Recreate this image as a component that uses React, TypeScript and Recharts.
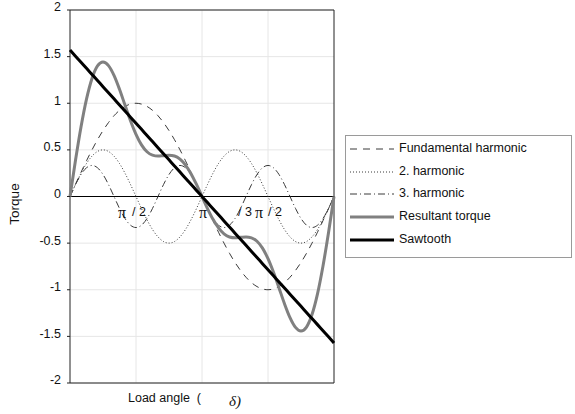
import React from "react";
import {
  ComposedChart,
  Line,
  XAxis,
  YAxis,
  CartesianGrid,
  ReferenceLine,
  ReferenceDot,
  Legend,
} from "recharts";

// load angle in degrees, 7.5° steps
const angles = [
  0, 7.5, 15, 22.5, 30, 37.5, 45, 52.5, 60, 67.5, 75, 82.5, 90, 97.5, 105, 112.5, 120, 127.5, 135, 142.5, 150,
  157.5, 165, 172.5, 180, 187.5, 195, 202.5, 210, 217.5, 225, 232.5, 240, 247.5, 255, 262.5, 270, 277.5, 285,
  292.5, 300, 307.5, 315, 322.5, 330, 337.5, 345, 352.5, 360,
];

const fundamental = [
  0, 0.131, 0.259, 0.383, 0.5, 0.609, 0.707, 0.793, 0.866, 0.924, 0.966, 0.991, 1, 0.991, 0.966, 0.924, 0.866,
  0.793, 0.707, 0.609, 0.5, 0.383, 0.259, 0.131, 0, -0.131, -0.259, -0.383, -0.5, -0.609, -0.707, -0.793, -0.866,
  -0.924, -0.966, -0.991, -1, -0.991, -0.966, -0.924, -0.866, -0.793, -0.707, -0.609, -0.5, -0.383, -0.259,
  -0.131, 0,
];

const second = [
  0, 0.129, 0.25, 0.354, 0.433, 0.483, 0.5, 0.483, 0.433, 0.354, 0.25, 0.129, 0, -0.129, -0.25, -0.354, -0.433,
  -0.483, -0.5, -0.483, -0.433, -0.354, -0.25, -0.129, 0, 0.129, 0.25, 0.354, 0.433, 0.483, 0.5, 0.483, 0.433,
  0.354, 0.25, 0.129, 0, -0.129, -0.25, -0.354, -0.433, -0.483, -0.5, -0.483, -0.433, -0.354, -0.25, -0.129, 0,
];

const third = [
  0, 0.128, 0.236, 0.308, 0.333, 0.308, 0.236, 0.128, 0, -0.128, -0.236, -0.308, -0.333, -0.308, -0.236, -0.128,
  0, 0.128, 0.236, 0.308, 0.333, 0.308, 0.236, 0.128, 0, -0.128, -0.236, -0.308, -0.333, -0.308, -0.236, -0.128,
  0, 0.128, 0.236, 0.308, 0.333, 0.308, 0.236, 0.128, 0, -0.128, -0.236, -0.308, -0.333, -0.308, -0.236, -0.128,
  0,
];

const resultant = [
  0, 0.388, 0.745, 1.044, 1.266, 1.4, 1.443, 1.404, 1.299, 1.15, 0.98, 0.813, 0.667, 0.554, 0.48, 0.443, 0.433,
  0.438, 0.443, 0.434, 0.4, 0.337, 0.245, 0.129, 0, -0.129, -0.245, -0.337, -0.4, -0.434, -0.443, -0.438, -0.433,
  -0.443, -0.48, -0.554, -0.667, -0.813, -0.98, -1.15, -1.299, -1.404, -1.443, -1.4, -1.266, -1.044, -0.745,
  -0.388, 0,
];

const sawtooth = [
  1.571, 1.505, 1.44, 1.374, 1.309, 1.244, 1.178, 1.113, 1.047, 0.982, 0.916, 0.851, 0.785, 0.72, 0.654, 0.589,
  0.524, 0.458, 0.393, 0.327, 0.262, 0.196, 0.131, 0.065, 0, -0.065, -0.131, -0.196, -0.262, -0.327, -0.393,
  -0.458, -0.524, -0.589, -0.654, -0.72, -0.785, -0.851, -0.916, -0.982, -1.047, -1.113, -1.178, -1.244, -1.309,
  -1.374, -1.44, -1.505, -1.571,
];

const yTicks = [-2, -1.5, -1, -0.5, 0, 0.5, 1, 1.5, 2];
const yTickLabels = ["-2", "-1.5", "-1", "-0.5", "0", "0.5", "1", "1.5", "2"];
const gridAngles = [90, 180, 270];

const data = angles.map((a, i) => ({
  a,
  f1: fundamental[i],
  f2: second[i],
  f3: third[i],
  res: resultant[i],
  saw: sawtooth[i],
}));

// line styles, keyed by dataKey
const styles: Record<string, { stroke: string; width: number; dash?: string }> = {
  f1: { stroke: "#3a3a3a", width: 1, dash: "7 6" },
  f2: { stroke: "#3a3a3a", width: 1, dash: "1 2" },
  f3: { stroke: "#3a3a3a", width: 1, dash: "7 3 1 3" },
  res: { stroke: "#808080", width: 3 },
  saw: { stroke: "#000000", width: 3 },
};

const series = [
  { key: "f1", name: "Fundamental harmonic" },
  { key: "f2", name: "2. harmonic" },
  { key: "f3", name: "3. harmonic" },
  { key: "res", name: "Resultant torque" },
  { key: "saw", name: "Sawtooth" },
];

const sans = "'Liberation Sans', Arial, sans-serif";
const serif = "'Liberation Serif', 'Times New Roman', serif";

function YTick(props: any) {
  const { x, y, payload } = props;
  const idx = yTicks.indexOf(payload.value);
  return (
    <text x={x} y={y - 3} dy="0.35em" textAnchor="end" fontSize={12.5} fontFamily={sans} fill="#111">
      {yTickLabels[idx] ?? payload.value}
    </text>
  );
}

function NoTick() {
  return <g />;
}

// π labels sitting just below the zero line
function PiLabel(props: any) {
  const { cx, cy, kind } = props;
  const piY = cy + 21;
  const slashY = cy + 19;
  const pi = (x: number) => (
    <text x={x} y={piY} textAnchor="middle" fontSize={16} fontFamily={serif} fill="#111">
      π
    </text>
  );
  const txt = (x: number, s: string) => (
    <text x={x} y={slashY} fontSize={12.5} fontFamily={sans} fill="#111">
      {s}
    </text>
  );
  if (kind === 1)
    return (
      <g>
        {pi(cx - 14)}
        {txt(cx - 4, "/ 2")}
      </g>
    );
  if (kind === 2) return <g>{pi(cx + 1)}</g>;
  return (
    <g>
      {txt(cx - 30, "/ 3")}
      {pi(cx - 9)}
      {txt(cx, "/ 2")}
    </g>
  );
}

// legend keeps the series order of the original
function LegendBox() {
  return (
    <div style={{ paddingTop: 1 }}>
      {series.map((p) => {
        const s = styles[p.key];
        return (
          <div key={p.key} style={{ display: "flex", alignItems: "center", height: 22.6 }}>
            <svg width={48} height={10} style={{ marginLeft: 4, marginRight: 1 }}>
              <line
                x1={0}
                y1={6}
                x2={44}
                y2={6}
                stroke={s.stroke}
                strokeWidth={s.width}
                strokeDasharray={s.dash}
              />
            </svg>
            <span style={{ fontFamily: sans, fontSize: 12.5, color: "#111" }}>{p.name}</span>
          </div>
        );
      })}
    </div>
  );
}

export default function App() {
  return (
    <div style={{ position: "absolute", left: 0, top: 0, width: 575, height: 414, background: "#fff" }}>
      <ComposedChart width={575} height={414} data={data} margin={{ top: 10, right: 241, bottom: 31, left: 10 }}>
        <CartesianGrid vertical={false} stroke="#e6e6e6" />
        {gridAngles.map((g) => (
          <ReferenceLine key={g} x={g} stroke="#e6e6e6" />
        ))}
        <XAxis dataKey="a" type="number" domain={[0, 360]} hide />
        <YAxis
          type="number"
          domain={[-2, 2]}
          ticks={yTicks}
          width={60}
          axisLine={false}
          tickSize={3}
          tickMargin={6}
          tickLine={{ stroke: "#222" }}
          tick={<YTick />}
        />
        <YAxis
          yAxisId="r"
          orientation="right"
          type="number"
          domain={[-2, 2]}
          ticks={yTicks}
          width={10}
          mirror
          axisLine={false}
          tickSize={4}
          tickLine={{ stroke: "#222" }}
          tick={<NoTick />}
        />

        {/* plot frame and zero line */}
        <ReferenceLine y={2} stroke="#222" />
        <ReferenceLine y={-2} stroke="#222" />
        <ReferenceLine x={0} stroke="#222" />
        <ReferenceLine x={360} stroke="#222" />
        <ReferenceLine y={0} stroke="#000" />

        <Legend
          layout="vertical"
          align="center"
          verticalAlign="middle"
          content={<LegendBox />}
          wrapperStyle={{
            position: "absolute",
            left: 345,
            top: 135,
            width: 227,
            height: 123,
            border: "1px solid #9a9a9a",
            boxSizing: "border-box",
            background: "#fff",
          }}
        />

        {series.map((s) => (
          <Line
            key={s.key}
            dataKey={s.key}
            name={s.name}
            type="monotone"
            stroke={styles[s.key].stroke}
            strokeWidth={styles[s.key].width}
            strokeDasharray={styles[s.key].dash}
            dot={false}
            activeDot={false}
            isAnimationActive={false}
          />
        ))}

        <ReferenceDot x={90} y={0} r={0} shape={(p: any) => <PiLabel {...p} kind={1} />} />
        <ReferenceDot x={180} y={0} r={0} shape={(p: any) => <PiLabel {...p} kind={2} />} />
        <ReferenceDot x={270} y={0} r={0} shape={(p: any) => <PiLabel {...p} kind={3} />} />
      </ComposedChart>

      {/* axis titles */}
      <div
        style={{
          position: "absolute",
          left: 14,
          top: 204,
          transform: "translate(-50%, -50%) rotate(-90deg)",
          fontFamily: sans,
          fontSize: 13.5,
          color: "#111",
          whiteSpace: "nowrap",
        }}
      >
        Torque
      </div>
      <div
        style={{
          position: "absolute",
          left: 128,
          top: 391,
          fontFamily: sans,
          fontSize: 12.5,
          color: "#111",
          whiteSpace: "pre",
        }}
      >
        {"Load angle  ("}
      </div>
      <div
        style={{
          position: "absolute",
          left: 229,
          top: 393,
          fontFamily: serif,
          fontStyle: "italic",
          fontSize: 15,
          color: "#111",
          whiteSpace: "pre",
        }}
      >
        δ)
      </div>
    </div>
  );
}
